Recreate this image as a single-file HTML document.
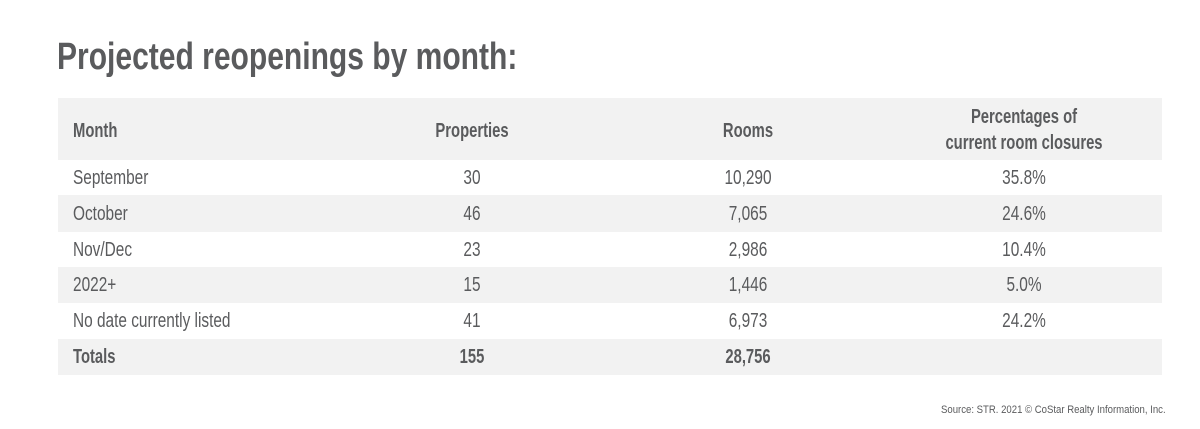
<!DOCTYPE html>
<html><head><meta charset="utf-8"><style>
body{margin:0;width:1200px;height:429px;background:#fff;overflow:hidden;font-family:"Liberation Sans",sans-serif;color:#5a5b5d;position:relative}
.t{position:absolute;white-space:nowrap;transform-origin:0 50%}
.c{transform-origin:50% 50%}
.row{position:absolute;left:58px;width:1104px}
</style></head><body>
<div class="t" style="left:57px;top:32px;font-size:38px;font-weight:bold;line-height:50px;transform:scaleX(0.79)">Projected reopenings by month:</div>
<div id="tbl"></div>
<div class="t" style="left:941px;top:403px;font-size:11px;line-height:14px;transform:scaleX(0.87)">Source: STR. 2021 © CoStar Realty Information, Inc.</div>
<script>
const months=["September","October","Nov/Dec","2022+","No date currently listed"];
const properties=["30","46","23","15","41"];
const rooms=["10,290","7,065","2,986","1,446","6,973"];
const pcts=["35.8%","24.6%","10.4%","5.0%","24.2%"];
const totals=["Totals","155","28,756",""];
const tbl=document.getElementById('tbl');
const bounds=[160,195,232,267,303,339,375];
const cx=[472,748,1024];
function txt(s,x,y,bold,center,name){
  const d=document.createElement('div');
  d.className='t'+(center?' c':'');
  
  
  d.style.fontSize='20px';d.style.lineHeight='24px';
  if(bold)d.style.fontWeight='bold';
  d.style.top=(y-12)+'px';
  d.style.transform='scaleX('+(bold?0.74:0.77)+')';
  d.textContent=s;
  if(center){d.style.left=(x-200)+'px';d.style.width='400px';d.style.textAlign='center';}
  else d.style.left=x+'px';
  document.body.appendChild(d);return d;
}
function bg(top,h,name){
  const r=document.createElement('div');r.className='row';
  
  
  r.style.top=top+'px';r.style.height=h+'px';r.style.background='#f2f2f2';
  document.body.appendChild(r);
}
bg(98,62,'header-row');
for(let i=0;i<6;i++){ if(i%2==0) continue; bg(bounds[i],bounds[i+1]-bounds[i],'row-band'); }
bg(bounds[5],bounds[6]-bounds[5],'totals-row');
txt('Month',73,131,true,false,'header-month');
txt('Properties',cx[0],131,true,true,'header-properties');
txt('Rooms',cx[1],131,true,true,'header-rooms');
const h=txt('Percentages of\ncurrent room closures',cx[2],131,true,true,'header-percentages');
h.style.whiteSpace='pre';h.style.lineHeight='26px';h.style.top='104px';
months.forEach((m,i)=>{
  const y=(bounds[i]+bounds[i+1])/2;
  txt(m,73,y,false,false,'month-cell');
  txt(properties[i],cx[0],y,false,true,'properties-cell');
  txt(rooms[i],cx[1],y,false,true,'rooms-cell');
  txt(pcts[i],cx[2],y,false,true,'percent-cell');
});
const ty=(bounds[5]+bounds[6])/2;
txt(totals[0],73,ty,true,false,'totals-label');
txt(totals[1],cx[0],ty,true,true,'totals-properties');
txt(totals[2],cx[1],ty,true,true,'totals-rooms');
</script>
</body></html>
